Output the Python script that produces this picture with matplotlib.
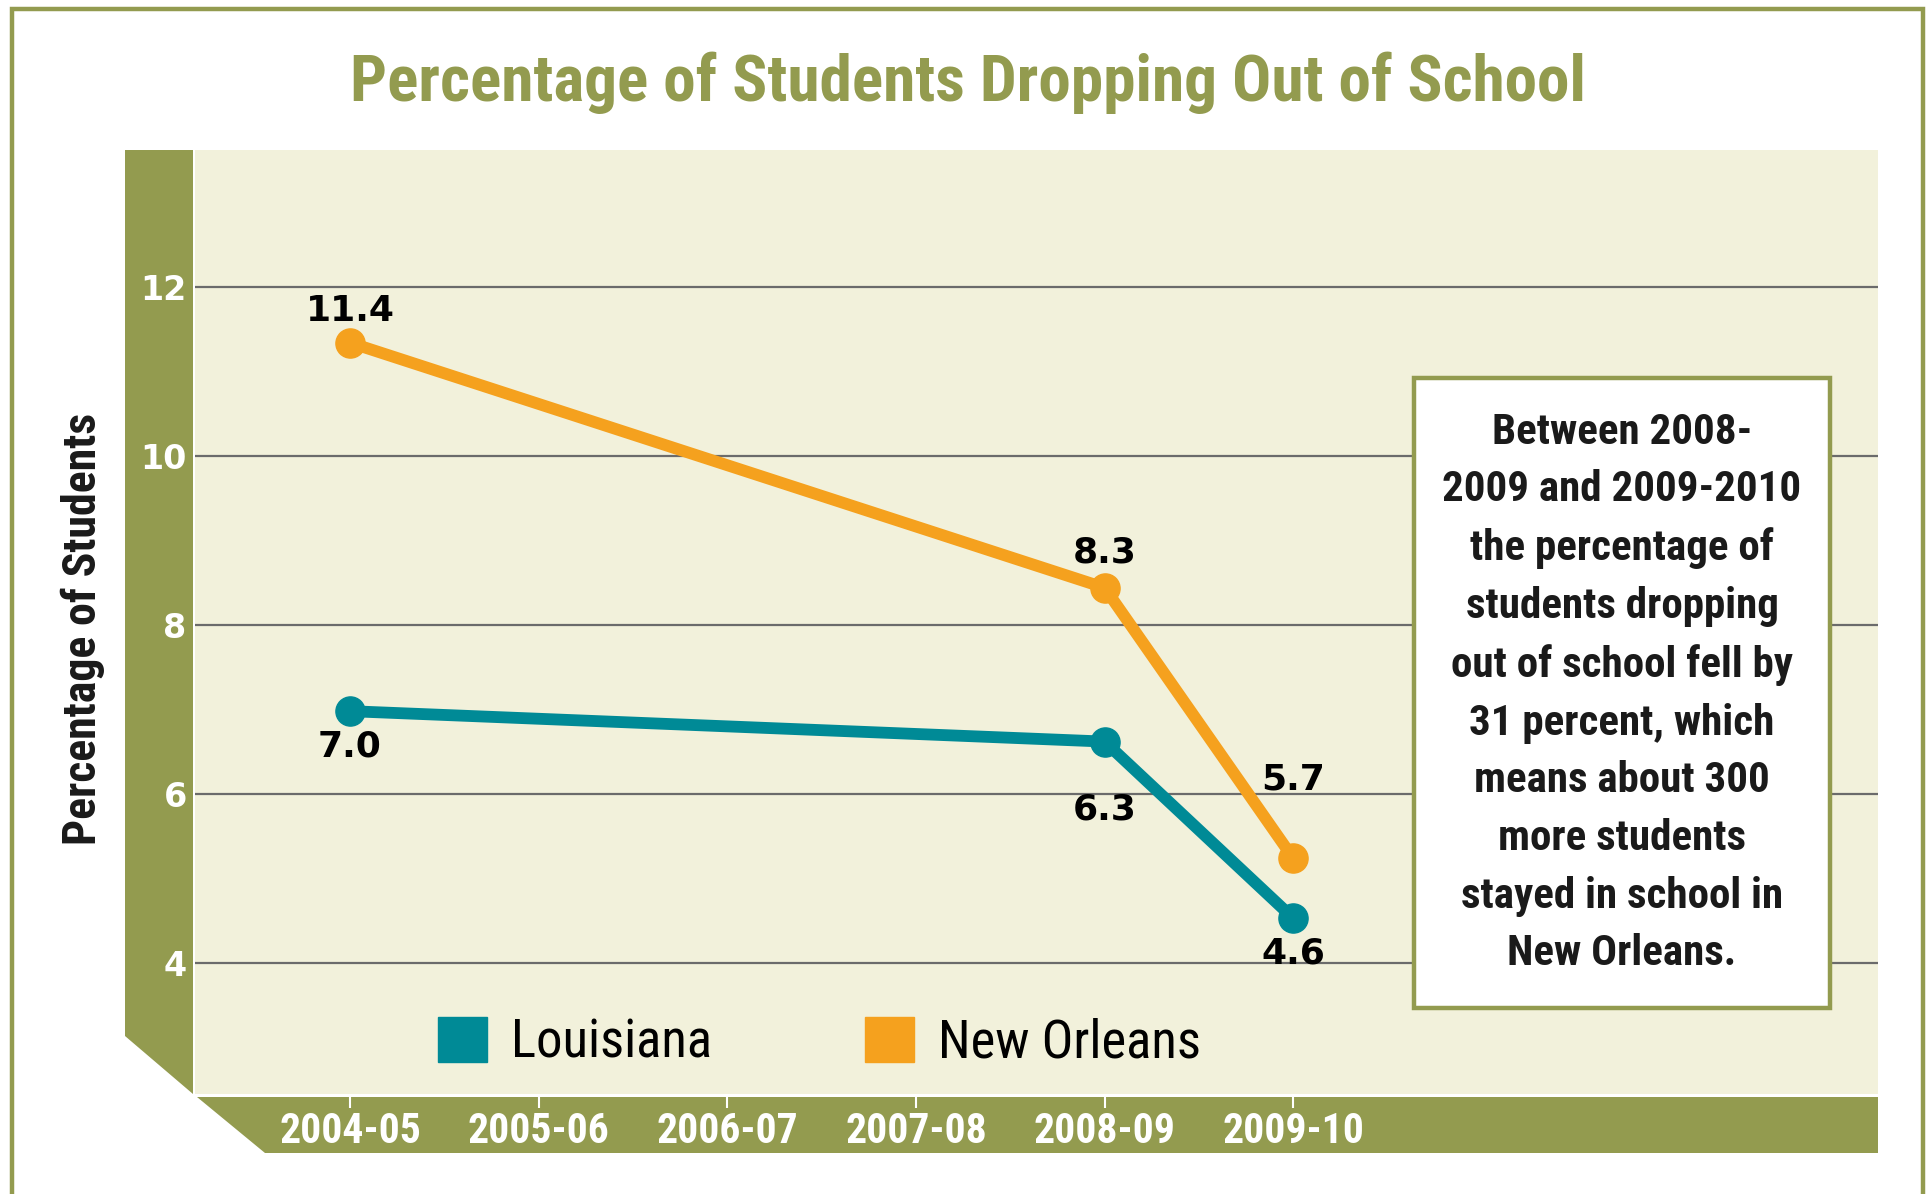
import matplotlib
matplotlib.use('Agg')
import matplotlib.pyplot as plt
from matplotlib.patches import Polygon, Rectangle, Patch

# data
years = ['2004-05', '2005-06', '2006-07', '2007-08', '2008-09', '2009-10']
point_idx = [0, 4, 5]
louisiana = [6.98, 6.62, 4.53]
louisiana_labels = ['7.0', '6.3', '4.6']
new_orleans = [11.34, 8.44, 5.24]
new_orleans_labels = ['11.4', '8.3', '5.7']
yticks = [4, 6, 8, 10, 12]

note = ("Between 2008-\n2009 and 2009-2010\nthe percentage of\nstudents dropping\n"
        "out of school fell by\n31 percent, which\nmeans about 300\nmore students\n"
        "stayed in school in\nNew Orleans.")

olive = '#939b4f'
cream = '#f2f1db'
teal = '#008a96'
orange = '#f5a11e'
narrow = ['Roboto Condensed', 'DejaVu Sans']

W, H = 1933, 1194
def fx(px):
    return px / W
def fy(py):
    return 1 - py / H

fig = plt.figure(figsize=(19.33, 11.94), dpi=100)
fig.patch.set_facecolor('white')

# outer frame
fig.add_artist(Rectangle((fx(12), fy(1300)), fx(1923) - fx(12), fy(9) - fy(1300),
                         transform=fig.transFigure, fill=False, ec=olive, lw=3.2, zorder=-1))

# olive bands along the axes
fig.add_artist(Polygon([(fx(125), fy(150)), (fx(193), fy(150)), (fx(193), fy(1094)),
                        (fx(125), fy(1036))], closed=True, transform=fig.transFigure,
                       fc=olive, ec='none', zorder=-1))
fig.add_artist(Polygon([(fx(197), fy(1097)), (fx(1878), fy(1097)), (fx(1878), fy(1153)),
                        (fx(265), fy(1153))], closed=True, transform=fig.transFigure,
                       fc=olive, ec='none', zorder=-1))

ax = fig.add_axes([fx(195), fy(1094), fx(1878) - fx(195), fy(150) - fy(1094)])
ax.set_facecolor(cream)
for s in ax.spines.values():
    s.set_visible(False)

ax.set_xlim(-0.822, 8.10)
ax.set_ylim(2.45, 13.62)
ax.set_yticks(yticks)
ax.set_yticklabels([str(v) for v in yticks], color='white', fontsize=24,
                   fontweight='bold', family='DejaVu Sans')
ax.tick_params(axis='y', length=0, pad=6)
ax.set_xticks(range(len(years)))
ax.set_xticklabels(years, color='white', fontsize=30, fontweight='bold', family=narrow)
ax.tick_params(axis='x', direction='out', length=10, width=1.5, color='white', pad=2)
ax.grid(axis='y', color='#6b6b6b', lw=1.6)
ax.set_axisbelow(True)

ax.plot(point_idx, louisiana, color=teal, lw=8.5, marker='o', ms=21,
        solid_capstyle='round', zorder=3)
ax.plot(point_idx, new_orleans, color=orange, lw=8.5, marker='o', ms=21,
        solid_capstyle='round', zorder=3)

la_off = [-35, -68, -35]
no_off = [32, 35, 79]
for x, y, t, o in zip(point_idx, louisiana, louisiana_labels, la_off):
    ax.annotate(t, (x, y), xytext=(0, o), textcoords='offset pixels', ha='center',
                va='center', fontsize=26, fontweight='bold', family='DejaVu Sans')
for x, y, t, o in zip(point_idx, new_orleans, new_orleans_labels, no_off):
    ax.annotate(t, (x, y), xytext=(0, o), textcoords='offset pixels', ha='center',
                va='center', fontsize=26, fontweight='bold', family='DejaVu Sans')

handles = [Patch(color=teal, label='Louisiana'), Patch(color=orange, label='New Orleans')]
ax.legend(handles=handles, loc='center left', bbox_to_anchor=(0.1444, 0.054), ncol=2,
          frameon=False, borderpad=0, borderaxespad=0, handlelength=0.93,
          handleheight=0.93, handletextpad=0.45, columnspacing=2.9,
          prop={'family': narrow, 'size': 38})

# note box
fig.add_artist(Rectangle((fx(1414), fy(1008)), fx(1830) - fx(1414), fy(378) - fy(1008),
                         transform=fig.transFigure, fc='white', ec=olive, lw=3.2, zorder=5))
fig.text(fx(1622), fy(693), note, ha='center', va='center', fontsize=31,
         fontweight='bold', family=narrow, linespacing=1.52, color='#1a1a1a', zorder=6)

fig.text(fx(968), fy(101), 'Percentage of Students Dropping Out of School', ha='center',
         va='baseline', fontsize=47, fontweight='bold', family=narrow, color=olive)
fig.text(fx(83), fy(629), 'Percentage of Students', rotation=90, ha='center',
         va='center', fontsize=33, fontweight='bold', family=narrow, color='#1a1a1a')

fig.savefig('out.png', dpi=100)
